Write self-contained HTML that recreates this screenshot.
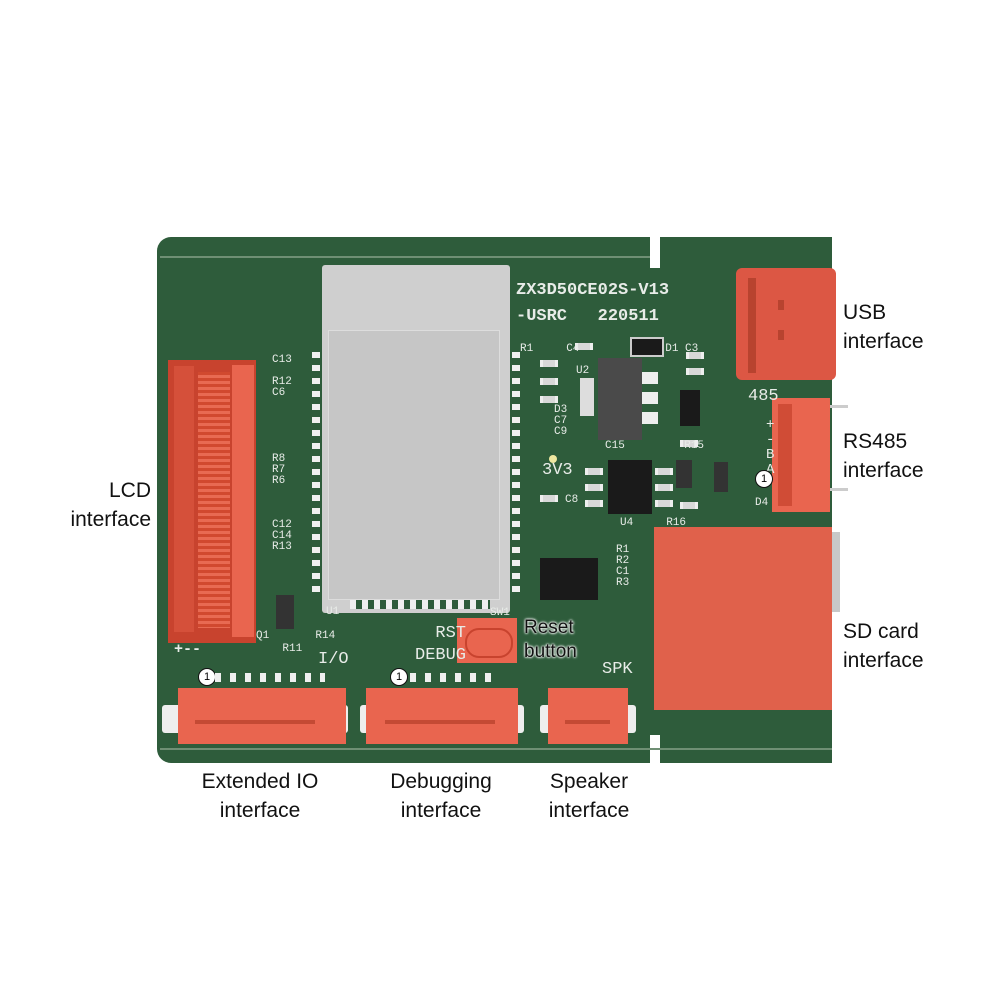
<!DOCTYPE html>
<html><head><meta charset="utf-8"><style>
body{margin:0;width:1000px;height:1000px;background:#fff;position:relative;overflow:hidden;font-family:"Liberation Sans",sans-serif}
.a{position:absolute}
.lbl{position:absolute;font-size:21px;line-height:29px;color:#111}
.silk{position:absolute;color:#e8ece8;font-family:"Liberation Mono",monospace;font-size:12px;line-height:13px}
.red{background:#e9654f}
.smd{position:absolute;width:12px;height:7px;background:#d8d8d8;border-left:3px solid #eee;border-right:3px solid #eee}
</style></head><body>
<!-- board -->
<div class="a" style="left:157px;top:237px;width:493px;height:526px;background:#2e5c3b;border-radius:14px 0 0 14px"></div>
<div class="a" style="left:660px;top:237px;width:172px;height:526px;background:#2e5c3b"></div>
<div class="a" style="left:650px;top:268px;width:10px;height:467px;background:#2e5c3b"></div>
<div class="a" style="left:160px;top:256px;width:490px;height:2px;background:#6f8f74"></div>
<div class="a" style="left:160px;top:748px;width:672px;height:2px;background:#6f8f74"></div>
<!-- module -->
<div class="a" style="left:322px;top:265px;width:188px;height:348px;background:#cfcfcf;border-radius:3px"></div>
<div class="a" style="left:328px;top:330px;width:170px;height:268px;background:#c6c6c6;border:1px solid #ddd"></div>
<div class="a" style="left:312px;top:352px;width:8px;height:246px;background:repeating-linear-gradient(#f0f0f0 0 6px,#2e5c3b 6px 13px)"></div>
<div class="a" style="left:512px;top:352px;width:8px;height:246px;background:repeating-linear-gradient(#f0f0f0 0 6px,#2e5c3b 6px 13px)"></div>
<div class="a" style="left:350px;top:600px;width:140px;height:9px;background:repeating-linear-gradient(90deg,#f0f0f0 0 6px,#2e5c3b 6px 12px)"></div>
<!-- LCD connector -->
<div class="a" style="left:168px;top:360px;width:88px;height:283px;background:#c8432e"></div>
<div class="a" style="left:174px;top:366px;width:20px;height:266px;background:#d5503a"></div>
<div class="a" style="left:232px;top:365px;width:22px;height:272px;background:#e9654f"></div>
<div class="a" style="left:198px;top:372px;width:32px;height:256px;background:repeating-linear-gradient(#d1492f 0 3px,#e86a52 3px 6px)"></div>
<!-- USB -->
<div class="a" style="left:736px;top:268px;width:100px;height:112px;background:#dc5744;border-radius:6px"></div>
<div class="a" style="left:748px;top:278px;width:8px;height:95px;background:#b8432f"></div>
<div class="a" style="left:778px;top:300px;width:6px;height:10px;background:#b8432f"></div>
<div class="a" style="left:778px;top:330px;width:6px;height:10px;background:#b8432f"></div>
<!-- RS485 -->
<div class="a" style="left:772px;top:398px;width:58px;height:114px;background:#e9654f"></div>
<div class="a" style="left:778px;top:404px;width:14px;height:102px;background:#d04c36"></div>
<div class="a" style="left:830px;top:405px;width:18px;height:3px;background:#ccc"></div>
<div class="a" style="left:830px;top:488px;width:18px;height:3px;background:#ccc"></div>
<!-- SD card -->
<div class="a" style="left:654px;top:527px;width:178px;height:183px;background:#e0614b"></div>
<div class="a" style="left:832px;top:532px;width:8px;height:80px;background:#c8c8c8"></div>
<!-- bottom connectors -->
<div class="a" style="left:162px;top:705px;width:186px;height:28px;background:#eee;border-radius:3px"></div>
<div class="a red" style="left:178px;top:688px;width:168px;height:56px"></div>
<div class="a" style="left:195px;top:720px;width:120px;height:4px;background:#c44a34"></div>
<div class="a" style="left:360px;top:705px;width:164px;height:28px;background:#eee;border-radius:3px"></div>
<div class="a red" style="left:366px;top:688px;width:152px;height:56px"></div>
<div class="a" style="left:385px;top:720px;width:110px;height:4px;background:#c44a34"></div>
<div class="a" style="left:540px;top:705px;width:96px;height:28px;background:#eee;border-radius:3px"></div>
<div class="a red" style="left:548px;top:688px;width:80px;height:56px"></div>
<div class="a" style="left:565px;top:720px;width:45px;height:4px;background:#c44a34"></div>
<!-- reset -->
<div class="a red" style="left:457px;top:618px;width:60px;height:45px"></div>
<div class="a" style="left:465px;top:628px;width:44px;height:26px;border:2px solid #c8432e;border-radius:14px"></div>
<!-- chips -->
<div class="a" style="left:598px;top:358px;width:44px;height:82px;background:#4a4a4a"></div>
<div class="a" style="left:642px;top:372px;width:16px;height:12px;background:#eee"></div>
<div class="a" style="left:642px;top:392px;width:16px;height:12px;background:#eee"></div>
<div class="a" style="left:642px;top:412px;width:16px;height:12px;background:#eee"></div>
<div class="a" style="left:580px;top:378px;width:14px;height:38px;background:#ddd"></div>
<div class="a" style="left:608px;top:460px;width:44px;height:54px;background:#1a1a1a"></div>
<div class="a" style="left:540px;top:558px;width:58px;height:42px;background:#1a1a1a"></div>
<div class="a" style="left:680px;top:390px;width:20px;height:36px;background:#1a1a1a"></div>
<div class="a" style="left:714px;top:462px;width:14px;height:30px;background:#333"></div>
<div class="a" style="left:676px;top:460px;width:16px;height:28px;background:#333"></div>
<div class="a" style="left:276px;top:595px;width:18px;height:34px;background:#333"></div>
<div class="a" style="left:630px;top:337px;width:30px;height:16px;background:#1a1a1a;border:2px solid #ccc"></div>
<div class="a" style="left:549px;top:455px;width:8px;height:8px;background:#eee8a0;border-radius:50%"></div>
<div class="smd" style="left:540px;top:360px"></div><div class="smd" style="left:540px;top:378px"></div><div class="smd" style="left:540px;top:396px"></div>
<div class="smd" style="left:575px;top:343px"></div><div class="smd" style="left:540px;top:495px"></div>
<div class="smd" style="left:686px;top:352px"></div><div class="smd" style="left:686px;top:368px"></div>
<div class="smd" style="left:585px;top:468px"></div><div class="smd" style="left:585px;top:484px"></div><div class="smd" style="left:585px;top:500px"></div>
<div class="smd" style="left:655px;top:468px"></div><div class="smd" style="left:655px;top:484px"></div><div class="smd" style="left:655px;top:500px"></div>
<div class="smd" style="left:680px;top:502px"></div><div class="smd" style="left:680px;top:440px"></div>
<!-- silk text -->
<div class="silk" style="left:516px;top:278px;font-size:17px;line-height:26px;font-weight:bold">ZX3D50CE02S-V13<br>-USRC&nbsp;&nbsp;&nbsp;220511</div>
<div class="silk" style="left:542px;top:464px;font-size:17px">3V3</div>
<div class="silk" style="left:415px;top:623px;font-size:17px;line-height:22px;text-align:right">&nbsp;RST<br>DEBUG</div>
<div class="silk" style="left:602px;top:663px;font-size:17px">SPK</div>
<div class="silk" style="left:318px;top:653px;font-size:17px">I/O</div>
<div class="silk" style="left:748px;top:390px;font-size:17px">485</div>
<div class="silk" style="left:766px;top:418px;font-size:14px;line-height:15px">+<br>-<br>B<br>A</div>
<div class="silk" style="left:272px;top:355px;line-height:11px;font-size:11px">C13<br><br>R12<br>C6<br><br><br><br><br><br>R8<br>R7<br>R6<br><br><br><br>C12<br>C14<br>R13</div>
<div class="silk" style="left:256px;top:630px;font-size:11px">Q1&nbsp;&nbsp;&nbsp;&nbsp;&nbsp;&nbsp;&nbsp;R14<br>&nbsp;&nbsp;&nbsp;&nbsp;R11</div>
<div class="silk" style="left:616px;top:545px;font-size:11px;line-height:11px">R1<br>R2<br>C1<br>R3</div>
<div class="silk" style="left:554px;top:405px;font-size:11px;line-height:11px">D3<br>C7<br>C9</div>
<div class="silk" style="left:520px;top:343px;font-size:11px">R1&nbsp;&nbsp;&nbsp;&nbsp;&nbsp;C4&nbsp;&nbsp;&nbsp;&nbsp;&nbsp;&nbsp;&nbsp;&nbsp;&nbsp;&nbsp;&nbsp;&nbsp;&nbsp;D1 C3</div>
<div class="silk" style="left:576px;top:365px;font-size:11px">U2</div>
<div class="silk" style="left:605px;top:440px;font-size:11px">C15&nbsp;&nbsp;&nbsp;&nbsp;&nbsp;&nbsp;&nbsp;&nbsp;&nbsp;R15</div>
<div class="silk" style="left:620px;top:517px;font-size:11px">U4&nbsp;&nbsp;&nbsp;&nbsp;&nbsp;R16</div>
<div class="silk" style="left:565px;top:494px;font-size:11px">C8</div>
<div class="silk" style="left:326px;top:606px;font-size:11px">U1</div>
<div class="silk" style="left:490px;top:607px;font-size:11px">SW1</div>
<div class="silk" style="left:755px;top:497px;font-size:11px">D4</div>
<div class="silk" style="left:174px;top:643px;font-size:15px;font-weight:bold">+--</div>
<div class="a" style="left:198px;top:668px;width:16px;height:16px;border-radius:50%;background:#fff;border:1px solid #111;font-size:11px;text-align:center;line-height:16px">1</div>
<div class="a" style="left:390px;top:668px;width:16px;height:16px;border-radius:50%;background:#fff;border:1px solid #111;font-size:11px;text-align:center;line-height:16px">1</div>
<div class="a" style="left:755px;top:470px;width:16px;height:16px;border-radius:50%;background:#fff;border:1px solid #111;font-size:11px;text-align:center;line-height:16px">1</div>
<div class="a" style="left:215px;top:673px;width:110px;height:9px;background:repeating-linear-gradient(90deg,#f0f0f0 0 6px,transparent 6px 15px)"></div>
<div class="a" style="left:410px;top:673px;width:90px;height:9px;background:repeating-linear-gradient(90deg,#f0f0f0 0 6px,transparent 6px 15px)"></div>
<!-- Reset label on board -->
<div class="a" style="left:524px;top:616px;font-size:19px;line-height:24px;color:#111;text-shadow:0 0 2px #fff,0 0 2px #fff,0 0 3px #fff">Reset<br>button</div>
<!-- outside labels -->
<div class="lbl" style="left:843px;top:298px">USB<br>interface</div>
<div class="lbl" style="left:843px;top:427px">RS485<br>interface</div>
<div class="lbl" style="left:843px;top:617px">SD card<br>interface</div>
<div class="lbl" style="left:40px;top:476px;width:111px;text-align:right">LCD<br>interface</div>
<div class="lbl" style="left:160px;top:767px;width:200px;text-align:center">Extended IO<br>interface</div>
<div class="lbl" style="left:341px;top:767px;width:200px;text-align:center">Debugging<br>interface</div>
<div class="lbl" style="left:489px;top:767px;width:200px;text-align:center">Speaker<br>interface</div>
</body></html>
